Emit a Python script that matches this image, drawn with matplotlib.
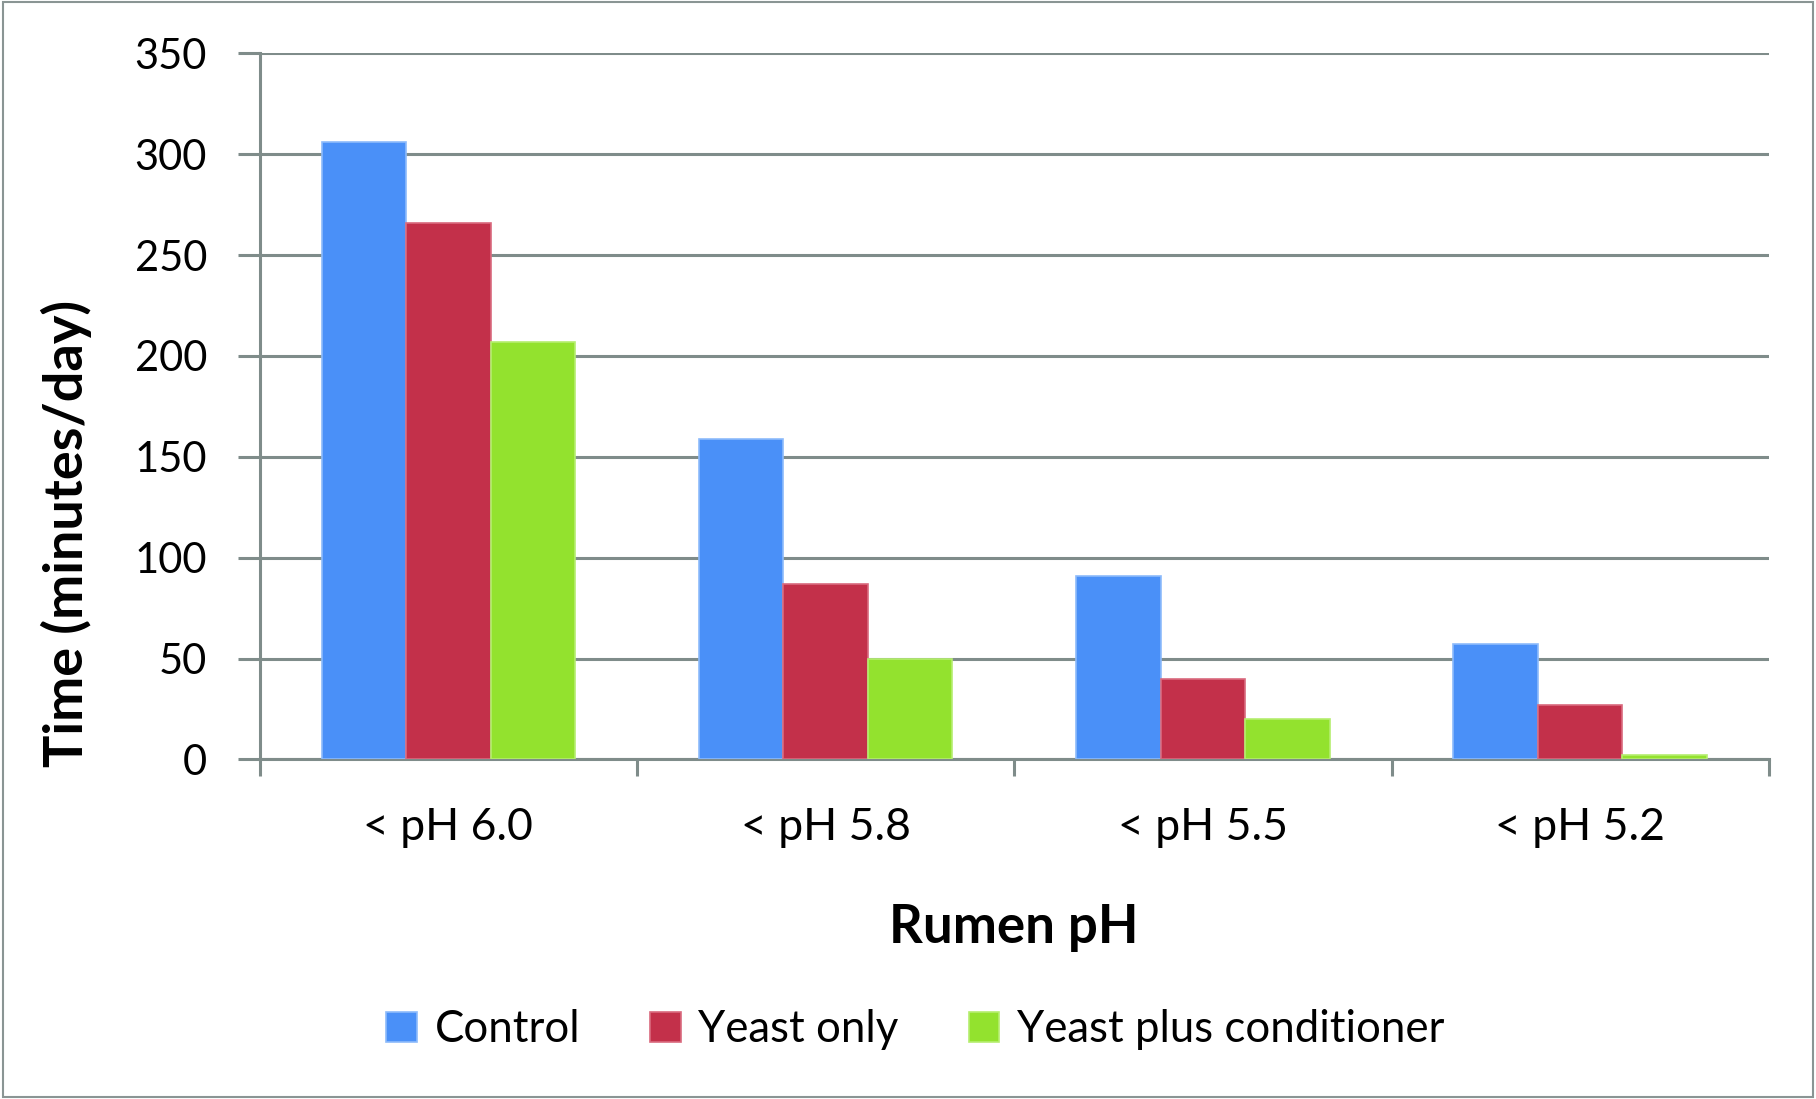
import matplotlib
matplotlib.use("Agg")
import matplotlib.pyplot as plt
import numpy as np
from matplotlib.patches import Rectangle

categories = ["< pH 6.0", "< pH 5.8", "< pH 5.5", "< pH 5.2"]
series_names = ["Control", "Yeast only", "Yeast plus conditioner"]
control = [306, 159, 91, 57]
yeast_only = [266, 87, 40, 27]
yeast_plus = [207, 50, 20, 2]
yticks = [0, 50, 100, 150, 200, 250, 300, 350]

colors = ["#4A90F8", "#C3304A", "#93E22E"]
edges = ["#8DBBFB", "#D96A7E", "#B5EE70"]

plt.rcParams['font.family'] = ['Lato', 'DejaVu Sans']

fig = plt.figure(figsize=(18.16, 10.99), dpi=100)
ax = fig.add_axes([0.143, 0.309, 0.831, 0.6425])

x = np.arange(len(categories))
w = 0.224
for i, (vals, name) in enumerate(zip([control, yeast_only, yeast_plus], series_names)):
    ax.bar(x + (i - 1) * w, vals, width=w, color=colors[i], edgecolor=edges[i],
           linewidth=1.2, label=name, zorder=3)

ax.set_xlim(-0.5, len(categories) - 0.5)
ax.set_ylim(0, 350)
ax.set_yticks(yticks)
ax.set_yticklabels([str(v) for v in yticks], fontsize=30)
ax.yaxis.grid(True, color="#7F8C8A", linewidth=2.2, zorder=0)
ax.set_axisbelow(True)

ax.set_xticks(x)
ax.set_xticklabels(categories, fontsize=32)
ax.tick_params(axis='x', length=0, pad=34)
ax.set_xticks(np.arange(-0.5, len(categories), 1.0), minor=True)
ax.tick_params(axis='x', which='minor', length=12, width=2.2, color="#7F8C8A")
ax.tick_params(axis='y', length=16, width=2.2, color="#7F8C8A", pad=22)

for s in ["top", "right"]:
    ax.spines[s].set_visible(False)
for s in ["left", "bottom"]:
    ax.spines[s].set_color("#7F8C8A")
    ax.spines[s].set_linewidth(2.2)

ax.set_ylabel("Time (minutes/day)", fontsize=39, fontweight='bold', va='center')
ax.yaxis.set_label_coords(-0.128, 0.32)
ax.set_xlabel("Rumen pH", fontsize=38, fontweight='bold', va='center')
ax.xaxis.set_label_coords(0.5, -0.238)

leg = fig.legend(loc='center', bbox_to_anchor=(0.504, 0.063), ncol=3, frameon=False,
                 fontsize=31.5, handlelength=0.7, handleheight=0.7, columnspacing=1.6,
                 handletextpad=0.4)

fig.patches.append(Rectangle((0.0015, 0.002), 0.997, 0.996, transform=fig.transFigure,
                             fill=False, edgecolor="#8A9594", linewidth=1.5))

fig.savefig("out.png", dpi=100)
